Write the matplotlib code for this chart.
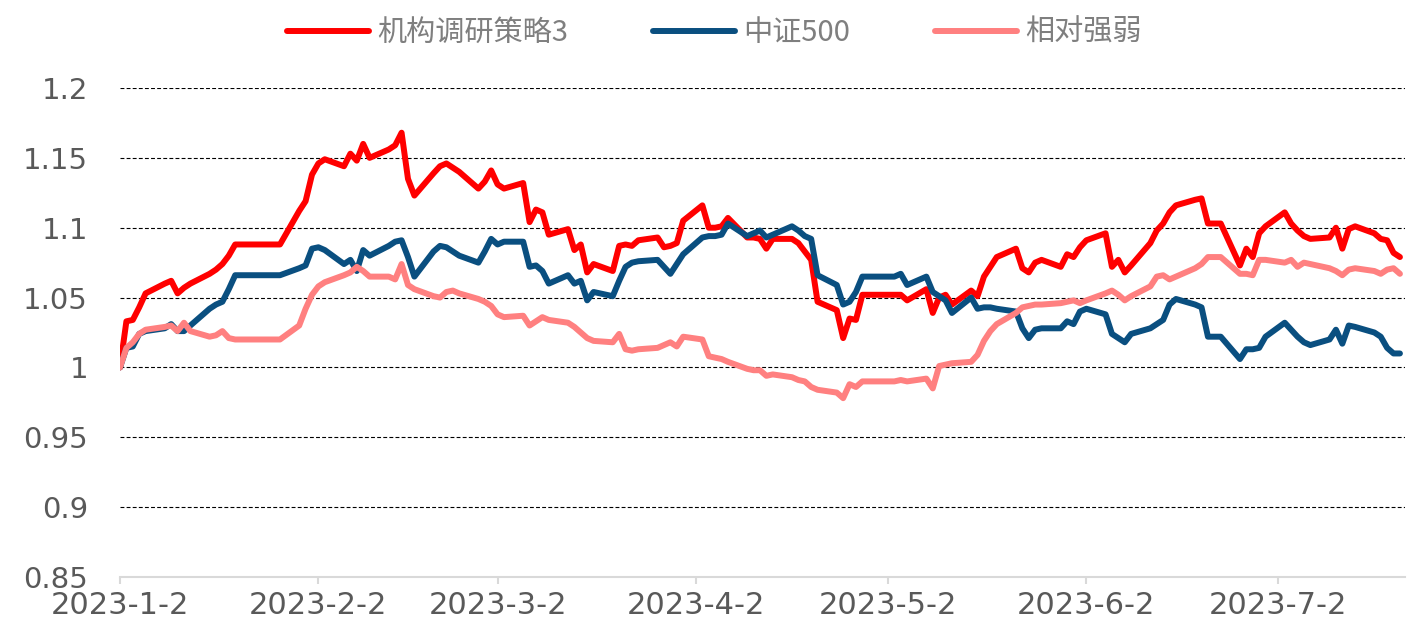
import matplotlib
matplotlib.use("Agg")
import matplotlib.pyplot as plt
import pandas as pd

# ---- data (weekdays 2023-01-02 .. 2023-07-21; exchange holidays carry the previous value) ----
dates = pd.bdate_range("2023-01-02", "2023-07-21")

strategy = [
    # Jan
    1.000, 1.033, 1.034, 1.043, 1.053, 1.060, 1.062, 1.053, 1.057, 1.060, 1.067, 1.070, 1.074, 1.080, 1.088,
    1.088, 1.088, 1.088, 1.088, 1.088, 1.112, 1.119,
    # Feb
    1.138, 1.146, 1.149, 1.144, 1.153, 1.148, 1.160, 1.150, 1.156, 1.159, 1.168, 1.135, 1.123, 1.139, 1.144,
    1.146, 1.143, 1.140, 1.128, 1.133,
    # Mar
    1.141, 1.131, 1.128, 1.132, 1.104, 1.113, 1.111, 1.095, 1.099, 1.084, 1.088, 1.068, 1.074, 1.069, 1.087,
    1.088, 1.087, 1.091, 1.093, 1.086, 1.087, 1.089, 1.105,
    # Apr
    1.116, 1.100, 1.100, 1.101, 1.107, 1.093, 1.093, 1.092, 1.085, 1.092, 1.092, 1.089, 1.083, 1.077, 1.047,
    1.041, 1.021, 1.035, 1.034, 1.052,
    # May
    1.052, 1.052, 1.052, 1.052, 1.048, 1.056, 1.039, 1.050, 1.052, 1.045, 1.055, 1.051, 1.065, 1.072, 1.079,
    1.085, 1.071, 1.068, 1.075, 1.077, 1.072, 1.081, 1.079,
    # Jun
    1.086, 1.091, 1.096, 1.072, 1.077, 1.068, 1.073, 1.089, 1.098, 1.103, 1.111, 1.116, 1.120, 1.121, 1.103,
    1.103, 1.103, 1.073, 1.085, 1.079, 1.096, 1.101,
    # Jul
    1.111, 1.103, 1.098, 1.094, 1.092, 1.093, 1.100, 1.085, 1.099, 1.101, 1.096, 1.092, 1.091, 1.082, 1.079,
]

csi500 = [
    # Jan
    1.000, 1.014, 1.015, 1.024, 1.026, 1.028, 1.031, 1.026, 1.026, 1.030, 1.042, 1.045, 1.047, 1.056, 1.066,
    1.066, 1.066, 1.066, 1.066, 1.066, 1.071, 1.073,
    # Feb
    1.085, 1.086, 1.084, 1.074, 1.077, 1.069, 1.084, 1.080, 1.087, 1.090, 1.091, 1.079, 1.065, 1.083, 1.087,
    1.086, 1.083, 1.080, 1.075, 1.083,
    # Mar
    1.092, 1.088, 1.090, 1.090, 1.072, 1.073, 1.069, 1.060, 1.066, 1.060, 1.062, 1.048, 1.054, 1.051, 1.062,
    1.072, 1.075, 1.076, 1.077, 1.072, 1.067, 1.074, 1.081,
    # Apr
    1.093, 1.094, 1.094, 1.095, 1.103, 1.094, 1.096, 1.098, 1.093, 1.095, 1.101, 1.098, 1.094, 1.092, 1.066,
    1.059, 1.045, 1.047, 1.054, 1.065,
    # May
    1.065, 1.065, 1.065, 1.067, 1.059, 1.065, 1.054, 1.051, 1.048, 1.039, 1.050, 1.042, 1.043, 1.043, 1.042,
    1.040, 1.028, 1.021, 1.027, 1.028, 1.028, 1.033, 1.031,
    # Jun
    1.040, 1.042, 1.038, 1.024, 1.021, 1.018, 1.024, 1.028, 1.031, 1.034, 1.045, 1.049, 1.045, 1.043, 1.022,
    1.022, 1.022, 1.006, 1.013, 1.013, 1.014, 1.022,
    # Jul
    1.032, 1.027, 1.022, 1.018, 1.016, 1.020, 1.027, 1.017, 1.030, 1.029, 1.025, 1.022, 1.014, 1.010, 1.010,
]

relative = [
    # Jan
    1.000, 1.014, 1.018, 1.024, 1.027, 1.029, 1.030, 1.026, 1.032, 1.026, 1.022, 1.023, 1.026, 1.021, 1.020,
    1.020, 1.020, 1.020, 1.020, 1.020, 1.030, 1.042,
    # Feb
    1.052, 1.058, 1.061, 1.066, 1.068, 1.072, 1.069, 1.065, 1.065, 1.063, 1.074, 1.059, 1.056, 1.051, 1.050,
    1.054, 1.055, 1.053, 1.049, 1.047,
    # Mar
    1.044, 1.038, 1.036, 1.037, 1.030, 1.033, 1.036, 1.034, 1.032, 1.029, 1.025, 1.021, 1.019, 1.018, 1.024,
    1.013, 1.012, 1.013, 1.014, 1.016, 1.018, 1.015, 1.022,
    # Apr
    1.020, 1.008, 1.007, 1.006, 1.004, 0.999, 0.998, 0.998, 0.994, 0.995, 0.993, 0.991, 0.990, 0.986, 0.984,
    0.982, 0.978, 0.988, 0.986, 0.990,
    # May
    0.990, 0.990, 0.990, 0.991, 0.990, 0.992, 0.985, 1.001, 1.002, 1.003, 1.004, 1.009, 1.019, 1.026, 1.031,
    1.039, 1.043, 1.044, 1.045, 1.045, 1.046, 1.047, 1.048,
    # Jun
    1.046, 1.048, 1.053, 1.055, 1.052, 1.048, 1.051, 1.058, 1.065, 1.066, 1.063, 1.065, 1.071, 1.074, 1.079,
    1.079, 1.079, 1.067, 1.067, 1.066, 1.077, 1.077,
    # Jul
    1.075, 1.077, 1.072, 1.075, 1.074, 1.071, 1.069, 1.066, 1.070, 1.071, 1.069, 1.067, 1.070, 1.071, 1.067,
]

series_names = ["机构调研策略3", "中证500", "相对强弱"]
series_colors = ["#FF0000", "#0A4F80", "#FF8080"]

xtick_dates = ["2023-01-02", "2023-02-02", "2023-03-02", "2023-04-02",
               "2023-05-02", "2023-06-02", "2023-07-02"]
yticks = [0.85, 0.9, 0.95, 1.0, 1.05, 1.1, 1.15, 1.2]
ytick_labels = ["0.85", "0.9", "0.95", "1", "1.05", "1.1", "1.15", "1.2"]

# ---- figure ----
fig = plt.figure(figsize=(14.13, 6.36), dpi=100)
ax = fig.add_axes([120 / 1413, 1 - 577 / 636, (1405 - 120) / 1413, (577 - 88) / 636])

for vals, name, col in zip([strategy, csi500, relative], series_names, series_colors):
    ax.plot(dates, vals, color=col, lw=4.3, label=name,
            solid_joinstyle="round", solid_capstyle="round")

ax.set_ylim(0.85, 1.2)
ax.set_xlim(pd.Timestamp("2023-01-02"), pd.Timestamp("2023-07-21") + pd.Timedelta(hours=19))

ax.set_yticks(yticks)
ax.set_yticklabels(ytick_labels)
xt = pd.to_datetime(xtick_dates)
ax.set_xticks(xt)
ax.set_xticklabels([f"{d.year}-{d.month}-{d.day}" for d in xt])

for y in yticks[1:]:
    ax.axhline(y, color="black", lw=0.8, ls=(0, (3.5, 2)), zorder=0)

for s in ["top", "right", "left"]:
    ax.spines[s].set_visible(False)
ax.spines["bottom"].set_color("#D9D9D9")
ax.spines["bottom"].set_linewidth(1.5)

ax.tick_params(axis="y", length=0, pad=23, labelsize=21, labelcolor="#595959")
ax.tick_params(axis="x", length=5, width=1.5, color="#D9D9D9", pad=5,
               labelsize=22, labelcolor="#595959")
for lab in ax.get_xticklabels() + ax.get_yticklabels():
    lab.set_family("DejaVu Sans")

leg = fig.legend(loc="center left", bbox_to_anchor=(287 / 1413, 1 - 33 / 636),
                 ncol=3, frameon=False, borderpad=0, borderaxespad=0,
                 handlelength=2.8, handletextpad=0.3, columnspacing=2.9,
                 prop={"family": ["Noto Sans CJK SC", "DejaVu Sans"], "size": 21})
for t in leg.get_texts():
    t.set_color("#7F7F7F")

fig.savefig("out.png", dpi=100)
